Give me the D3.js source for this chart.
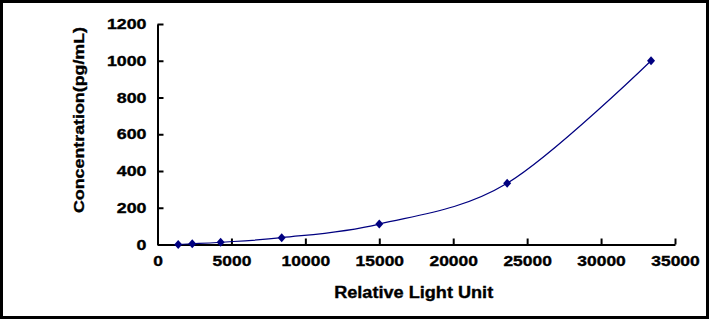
<!DOCTYPE html>
<html>
<head>
<meta charset="utf-8">
<script src="https://cdn.jsdelivr.net/npm/d3@7"></script>
<style>
  html, body { margin: 0; padding: 0; background: #fff; }
  text { font-family: "Liberation Sans", Arial, sans-serif; font-weight: bold; fill: #000; stroke: #000; stroke-width: 0.35px; }
</style>
</head>
<body>
<div id="chart"></div>
<script>
// standard curve points
const rlu = [1400, 2350, 4270, 8400, 15000, 23650, 33380];
const conc = [0, 4.12, 12.35, 37.04, 111.11, 333.33, 1000];
const xTicks = [0, 5000, 10000, 15000, 20000, 25000, 30000, 35000];
const yTicks = [0, 200, 400, 600, 800, 1000, 1200];

const W = 709, H = 319;

const svg = d3.select("#chart")
  .append("svg")
    .attr("width", W)
    .attr("height", H);

svg.append("rect")
  .attr("x", 0).attr("y", 0)
  .attr("width", W).attr("height", H)
  .attr("fill", "#fff");

// outer frame
svg.append("rect")
  .attr("x", 1.5).attr("y", 1.5)
  .attr("width", 706).attr("height", 316)
  .attr("fill", "none")
  .attr("stroke", "#000")
  .attr("stroke-width", 3);

const x = d3.scaleLinear().domain([0, 35000]).range([157.5, 675]);
const y = d3.scaleLinear().domain([0, 1200]).range([244.5, 24]);

// X axis (ticks point up into the plot)
const xAxis = svg.append("g")
  .attr("transform", `translate(0,${y(0)})`)
  .call(d3.axisBottom(x).tickValues(xTicks).tickFormat(d3.format("d"))
    .tickSizeInner(-6).tickSizeOuter(0).tickPadding(11));
xAxis.select(".domain").attr("stroke", "#000").attr("stroke-width", 2);
xAxis.selectAll(".tick line").attr("stroke", "#000").attr("stroke-width", 2);
xAxis.selectAll(".tick text")
  .attr("font-size", 14.5)
  .attr("textLength", d => String(d).length * 9.7)
  .attr("lengthAdjust", "spacingAndGlyphs");

// Y axis (ticks point right into the plot)
const yAxis = svg.append("g")
  .attr("transform", `translate(${x(0)},0)`)
  .call(d3.axisLeft(y).tickValues(yTicks).tickFormat(d3.format("d"))
    .tickSizeInner(-6).tickSizeOuter(0).tickPadding(11));
yAxis.select(".domain").attr("stroke", "#000").attr("stroke-width", 2);
yAxis.selectAll(".tick line").attr("stroke", "#000").attr("stroke-width", 2);
yAxis.selectAll(".tick text")
  .attr("font-size", 14.5)
  .attr("textLength", d => String(d).length * 9.9)
  .attr("lengthAdjust", "spacingAndGlyphs");

svg.selectAll(".tick text")
  .attr("font-family", null)
  .attr("fill", "#000")
  .style("font-family", "'Liberation Sans', Arial, sans-serif")
  .style("font-weight", "bold");

// axis titles
svg.append("text")
  .attr("x", 413.7)
  .attr("y", 297.5)
  .attr("text-anchor", "middle")
  .attr("font-size", 16)
  .attr("textLength", 159)
  .attr("lengthAdjust", "spacingAndGlyphs")
  .text("Relative Light Unit");

svg.append("text")
  .attr("transform", `translate(84,120) rotate(-90)`)
  .attr("text-anchor", "middle")
  .attr("font-size", 15)
  .attr("textLength", 186)
  .attr("lengthAdjust", "spacingAndGlyphs")
  .text("Concentration(pg/mL)");

// fitted curve
const pts = rlu.map((v, i) => [v, conc[i]]);
const line = d3.line()
  .x(d => x(d[0]))
  .y(d => y(d[1]))
  .curve(d3.curveCardinal.tension(0));

svg.append("path")
  .datum(pts)
  .attr("d", line)
  .attr("fill", "none")
  .attr("stroke", "#000080")
  .attr("stroke-width", 1.2);

// diamond markers
svg.selectAll("path.pt")
  .data(pts)
  .join("path")
    .attr("class", "pt")
    .attr("transform", d => `translate(${x(d[0])},${y(d[1])})`)
    .attr("d", "M0,-4.5L4,0L0,4.5L-4,0Z")
    .attr("fill", "#000080");
</script>
</body>
</html>
